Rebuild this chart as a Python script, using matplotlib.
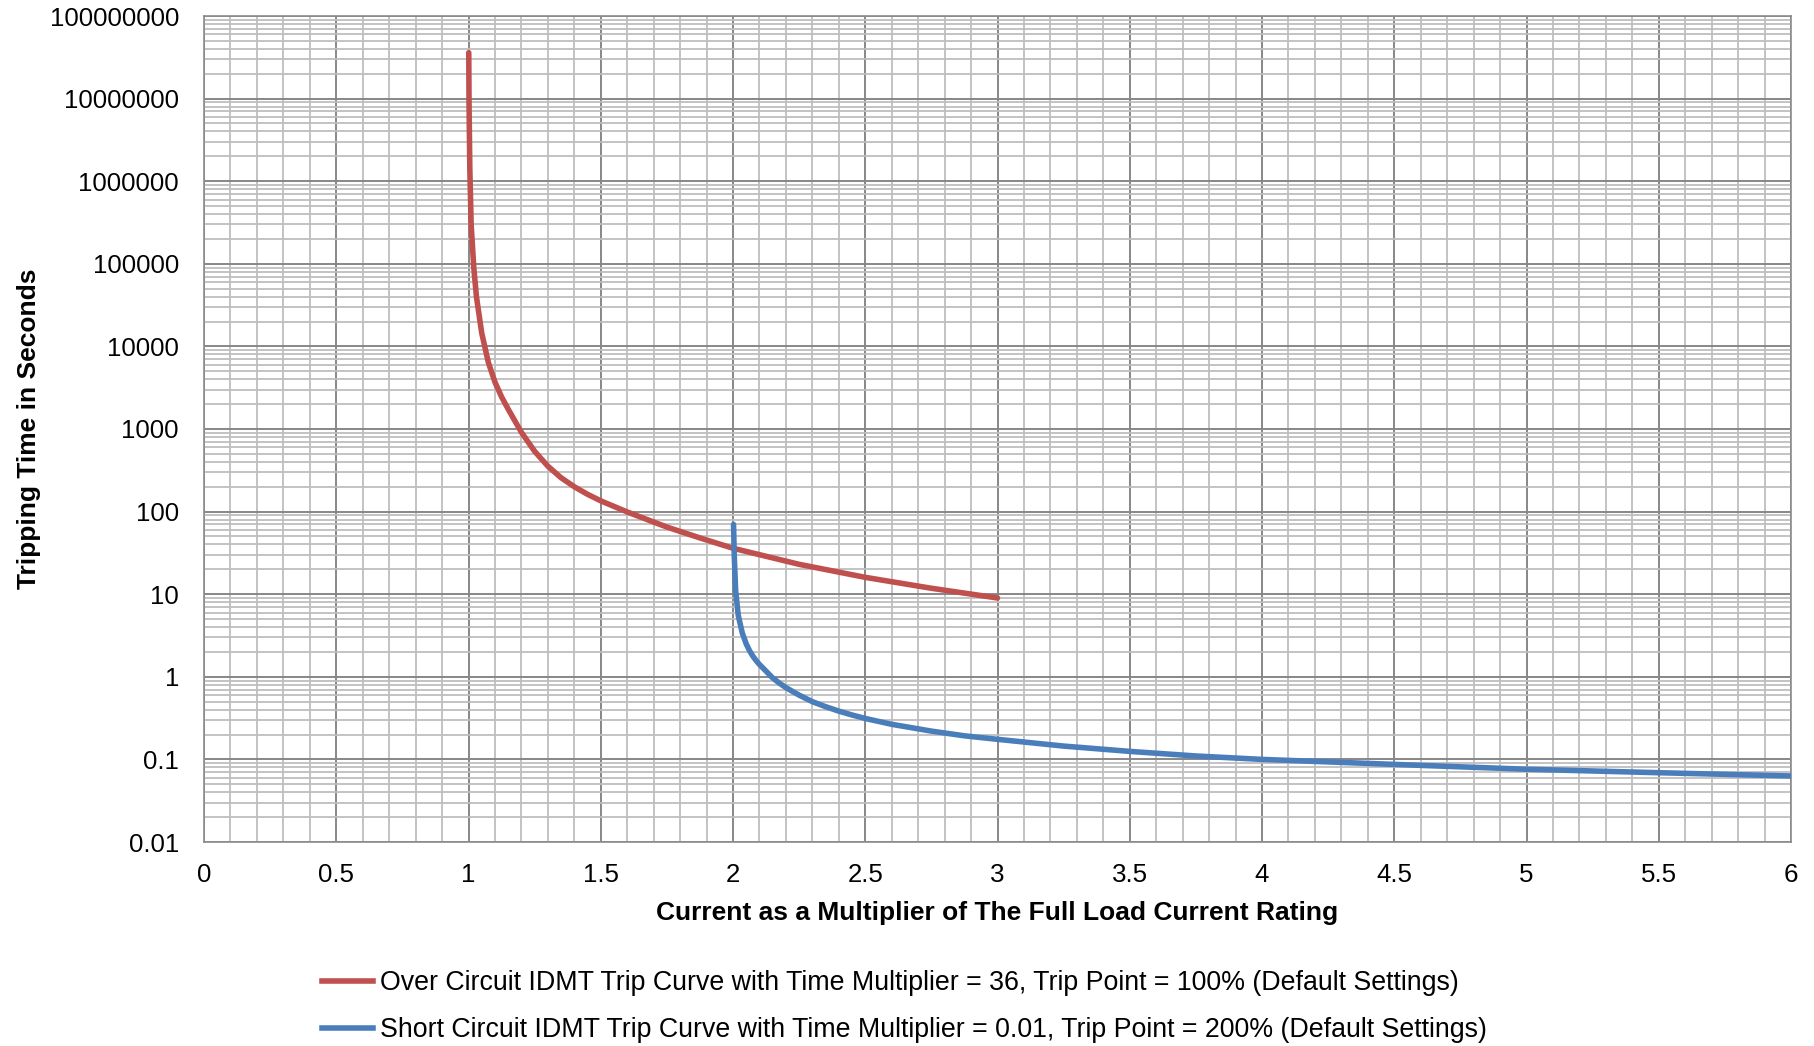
#!/usr/bin/env python

import numpy as np
import matplotlib
matplotlib.use("Agg")
import matplotlib.pyplot as plt
from matplotlib.lines import Line2D
from matplotlib.ticker import FixedLocator, NullFormatter

plt.rcParams['font.family'] = ['Liberation Sans', 'DejaVu Sans']

# over circuit curve
over_x = [1.001, 1.002, 1.005, 1.01, 1.02, 1.03, 1.05, 1.075, 1.1, 1.125, 1.15, 1.2, 1.25,
          1.3, 1.35, 1.4, 1.45, 1.5, 1.6, 1.75, 1.875, 2.0, 2.25, 2.5, 2.75, 3.0]
over_t = [3.6e7, 9e6, 1.4e6, 3.0e5, 9e4, 4e4, 1.45e4, 6.4e3, 3.7e3, 2.45e3, 1.74e3, 912, 537,
          355, 257, 200, 162, 135, 99, 65, 48, 36, 23, 16, 11.8, 9]

# short circuit curve
short_x = [2.002, 2.005, 2.01, 2.02, 2.035, 2.05, 2.0625, 2.075, 2.0875, 2.1, 2.125, 2.15,
           2.175, 2.2, 2.25, 2.3, 2.35, 2.4, 2.45, 2.5, 2.6, 2.75, 2.875, 3.0, 3.25, 3.5,
           3.75, 4.0, 4.5, 5.0, 5.5, 6.0]
short_t = [70, 28, 11, 5.5, 3.4, 2.5, 2.07, 1.78, 1.57, 1.41, 1.17, 0.97,
           0.84, 0.74, 0.6, 0.5, 0.435, 0.384, 0.345, 0.313, 0.266, 0.22, 0.193, 0.175, 0.145,
           0.125, 0.11, 0.1, 0.087, 0.076, 0.069, 0.063]

x_ticks = [0, 0.5, 1, 1.5, 2, 2.5, 3, 3.5, 4, 4.5, 5, 5.5, 6]
x_tick_labels = ['0', '0.5', '1', '1.5', '2', '2.5', '3', '3.5', '4', '4.5', '5', '5.5', '6']
y_ticks = [1e-2, 1e-1, 1, 10, 100, 1e3, 1e4, 1e5, 1e6, 1e7, 1e8]
y_tick_labels = ['0.01', '0.1', '1', '10', '100', '1000', '10000', '100000',
                 '1000000', '10000000', '100000000']

over_label = 'Over Circuit IDMT Trip Curve with Time Multiplier = 36, Trip Point = 100% (Default Settings)'
short_label = 'Short Circuit IDMT Trip Curve with Time Multiplier = 0.01, Trip Point = 200% (Default Settings)'

red = '#C0504D'
blue = '#4A7EBB'

fig = plt.figure(figsize=(18.15, 10.46), dpi=100)
ax = fig.add_axes([204 / 1815, 1 - 842 / 1046, 1587 / 1815, 826 / 1046])

ax.set_yscale('log')
ax.set_xlim(0, 6)
ax.set_ylim(1e-2, 1e8)

# grid: major and minor lines
ax.set_xticks(x_ticks)
ax.set_xticklabels(x_tick_labels)
ax.xaxis.set_minor_locator(FixedLocator(np.arange(0, 6.001, 0.1)))
ax.set_yticks(y_ticks)
ax.set_yticklabels(y_tick_labels)
minor_y = [m * 10.0 ** e for e in range(-2, 8) for m in range(2, 10)]
ax.yaxis.set_minor_locator(FixedLocator(minor_y))
ax.yaxis.set_minor_formatter(NullFormatter())

ax.grid(which='minor', color='#BEBEBE', linewidth=1.3)
ax.grid(which='major', color='#878787', linewidth=1.4)
ax.set_axisbelow(True)

ax.tick_params(which='both', length=0, labelsize=18.6, colors='black')
ax.tick_params(axis='y', pad=18)
ax.tick_params(axis='x', pad=15)
for s in ax.spines.values():
    s.set_color('#8C8C8C')
    s.set_linewidth(1.2)

ax.plot(over_x, over_t, color=red, linewidth=4.0, solid_capstyle='round', zorder=3)
ax.plot(short_x, short_t, color=blue, linewidth=4.0, solid_capstyle='round', zorder=3)

ax.set_xlabel('Current as a Multiplier of The Full Load Current Rating',
              fontsize=19, fontweight='bold')
ax.xaxis.set_label_coords(0.5, -0.071)
ax.set_ylabel('Tripping Time in Seconds', fontsize=19, fontweight='bold')
ax.yaxis.set_label_coords(-0.1025, 0.5)

handles = [Line2D([], [], color=red, linewidth=4.0),
           Line2D([], [], color=blue, linewidth=4.0)]
fig.legend(handles, [over_label, short_label], loc='upper left',
           bbox_to_anchor=(322 / 1815, 1 - 970 / 1046), frameon=False,
           fontsize=19.3, handlelength=1.9, handletextpad=0.27,
           labelspacing=0.8, borderpad=0, borderaxespad=0)

fig.savefig('out.png', dpi=100)
